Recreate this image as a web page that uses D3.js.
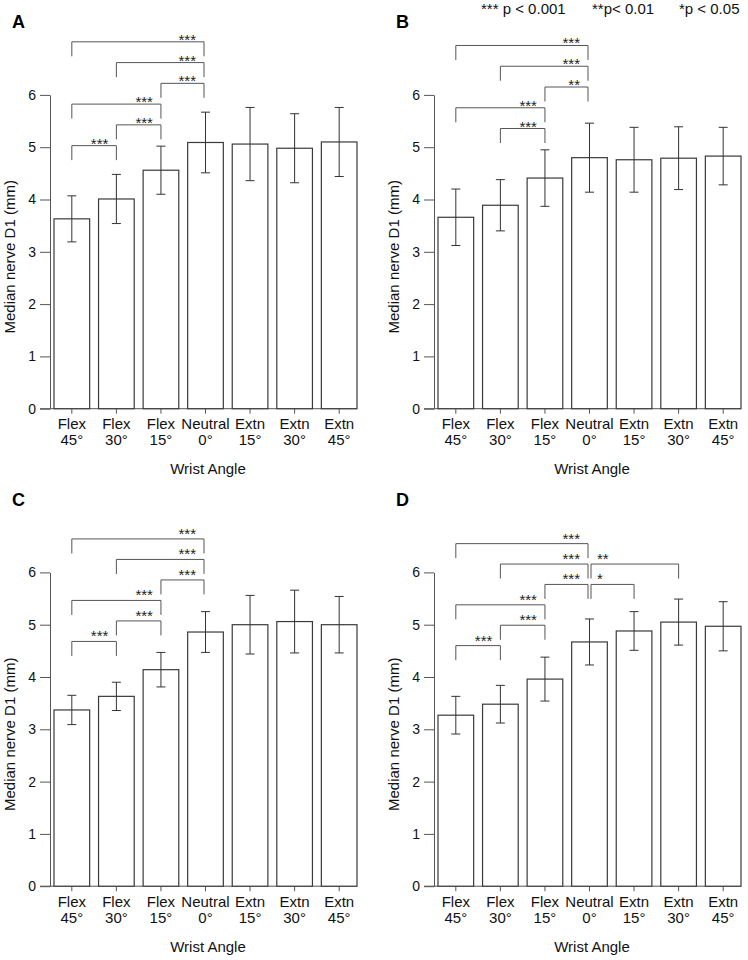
<!DOCTYPE html>
<html><head><meta charset="utf-8">
<script src="https://cdn.jsdelivr.net/npm/d3@7"></script>
<style>
body{margin:0;background:#fff}
svg{display:block;font-family:Arial,"Liberation Sans",sans-serif}
</style>
</head><body>
<svg id="chart" width="748" height="960"></svg>
<script>
// ---------- data ----------
const categories = ["Flex 45°","Flex 30°","Flex 15°","Neutral 0°","Extn 15°","Extn 30°","Extn 45°"];
const tickLine1 = ["Flex","Flex","Flex","Neutral","Extn","Extn","Extn"];
const tickLine2 = ["45°","30°","15°","0°","15°","30°","45°"];
const yTicks = [0,1,2,3,4,5,6];
const panelLabels = ["A","B","C","D"];
const yLabel = "Median nerve D1 (mm)";
const xLabel = "Wrist Angle";
const legendItems = ["*** p < 0.001","**p< 0.01","*p < 0.05"];

const meanA = [3.63,4.01,4.56,5.09,5.06,4.98,5.10];
const sdA   = [0.44,0.47,0.46,0.58,0.70,0.66,0.66];
const meanB = [3.66,3.89,4.41,4.80,4.76,4.79,4.83];
const sdB   = [0.54,0.49,0.54,0.66,0.62,0.60,0.55];
const meanC = [3.37,3.63,4.14,4.86,5.00,5.06,5.00];
const sdC   = [0.28,0.27,0.33,0.39,0.56,0.60,0.54];
const meanD = [3.27,3.48,3.96,4.67,4.88,5.05,4.97];
const sdD   = [0.36,0.36,0.42,0.44,0.37,0.44,0.47];

// brackets: [fromIndex, toIndex, label, stackLevel]
const bracketsA = [[0,1,"***",0],[1,2,"***",1],[0,2,"***",2],[2,3,"***",3],[1,3,"***",4],[0,3,"***",5]];
const bracketsB = [[1,2,"***",1],[0,2,"***",2],[2,3,"**",3],[1,3,"***",4],[0,3,"***",5]];
const bracketsC = [[0,1,"***",0],[1,2,"***",1],[0,2,"***",2],[2,3,"***",3],[1,3,"***",4],[0,3,"***",5]];
const bracketsD = [[0,1,"***",0],[1,2,"***",1],[0,2,"***",2],[2,3,"***",3],[3,4,"*",3],[1,3,"***",4],[3,5,"**",4],[0,3,"***",5]];

// ---------- layout ----------
const panels = [
  {label:panelLabels[0], mean:meanA, sd:sdA, br:bracketsA, ox:0,   oy:0,     base:5.03, step:0.397, starDy:3},
  {label:panelLabels[1], mean:meanB, sd:sdB, br:bracketsB, ox:384, oy:0,     base:4.96, step:0.397, starDy:3},
  {label:panelLabels[2], mean:meanC, sd:sdC, br:bracketsC, ox:0,   oy:477.5, base:4.68, step:0.392, starDy:0},
  {label:panelLabels[3], mean:meanD, sd:sdD, br:bracketsD, ox:384, oy:477.5, base:4.60, step:0.39,  starDy:0}
];
const axisX = 50, barL = 54, barR = 357, y0px = 408.7, y6px = 94.9;
const axisCol = "#555", barCol = "#3a3a3a", brCol = "#555";

const svg = d3.select("#chart");

// legend
const legendX = [481, 592, 679];
svg.selectAll("text.legend").data(legendItems).join("text")
  .attr("class","legend").attr("x",(d,i)=>legendX[i]).attr("y",14)
  .attr("font-size",15).attr("fill","#111").text(d=>d);

panels.forEach(p => {
  const g = svg.append("g").attr("transform",`translate(${p.ox},${p.oy})`);
  const x = d3.scaleBand().domain(categories).range([barL,barR]).paddingInner(0.2).paddingOuter(0);
  const y = d3.scaleLinear().domain([0,6]).range([y0px,y6px]);
  const cx = i => x(categories[i]) + x.bandwidth()/2;

  // panel letter
  g.append("text").attr("x",12).attr("y",28).attr("font-size",18).attr("font-weight","bold")
    .attr("fill","#000").text(p.label);

  // y axis
  const ya = g.append("g").attr("transform",`translate(${axisX},0)`)
    .call(d3.axisLeft(y).tickValues(yTicks).tickSize(10).tickPadding(4).tickSizeOuter(0).tickFormat(d3.format("d")));
  ya.attr("font-family",null).attr("font-size",null);
  ya.selectAll("path,line").attr("stroke",axisCol);
  ya.selectAll("text").attr("font-size",14).attr("fill","#111");

  // x axis
  const xa = g.append("g").attr("transform",`translate(0,${y(0)})`)
    .call(d3.axisBottom(x).tickSize(5).tickSizeOuter(0).tickFormat(()=>""));
  xa.attr("font-family",null).attr("font-size",null);
  xa.select(".domain").remove();
  xa.append("line").attr("x1",axisX-10).attr("x2",barR).attr("y1",0).attr("y2",0).attr("stroke",axisCol);
  xa.selectAll(".tick line").attr("stroke",axisCol);
  xa.selectAll(".tick").each(function(d,i){
    const t = d3.select(this).select("text").attr("y",null).attr("dy",null)
      .attr("font-size",15).attr("fill","#111").attr("text-anchor","middle");
    t.append("tspan").attr("x",0).attr("y",20.5).text(tickLine1[i]);
    t.append("tspan").attr("x",0).attr("y",36.5).text(tickLine2[i]);
  });

  // axis titles
  g.append("text").attr("x",(barL+barR)/2+2.5).attr("y",y(0)+65.5).attr("text-anchor","middle")
    .attr("font-size",15).attr("fill","#111").text(xLabel);
  g.append("text").attr("transform",`translate(15,${y(3)+5}) rotate(-90)`).attr("text-anchor","middle")
    .attr("font-size",15).attr("fill","#111").text(yLabel);

  // bars
  g.selectAll("rect.bar").data(p.mean).join("rect").attr("class","bar")
    .attr("x",(d,i)=>x(categories[i])).attr("width",x.bandwidth())
    .attr("y",d=>y(d)).attr("height",d=>y(0)-y(d))
    .attr("fill","#fff").attr("stroke",barCol).attr("stroke-width",1.2);

  // error bars
  const eb = g.selectAll("g.err").data(p.mean).join("g").attr("class","err");
  eb.append("line").attr("x1",(d,i)=>cx(i)).attr("x2",(d,i)=>cx(i))
    .attr("y1",(d,i)=>y(d+p.sd[i])).attr("y2",(d,i)=>y(d-p.sd[i])).attr("stroke","#333");
  eb.append("line").attr("x1",(d,i)=>cx(i)-4.5).attr("x2",(d,i)=>cx(i)+4.5)
    .attr("y1",(d,i)=>y(d+p.sd[i])).attr("y2",(d,i)=>y(d+p.sd[i])).attr("stroke","#333");
  eb.append("line").attr("x1",(d,i)=>cx(i)-4.5).attr("x2",(d,i)=>cx(i)+4.5)
    .attr("y1",(d,i)=>y(d-p.sd[i])).attr("y2",(d,i)=>y(d-p.sd[i])).attr("stroke","#333");

  // significance brackets
  const drop = 14.5;
  p.br.forEach(([a,b,lab,lev]) => {
    const yy = y(p.base + lev*p.step);
    const xl = cx(a) + (a===3 ? 1.5 : 0);
    const xr = cx(b) - (b===3 ? 1.5 : 0);
    g.append("path").attr("d",`M${xl},${yy+drop}V${yy}H${xr}V${yy+drop}`)
      .attr("fill","none").attr("stroke",brCol).attr("stroke-width",1);
    const rightSide = a >= 3;
    g.append("text").attr("x", rightSide ? xl+6 : xr-8).attr("y", yy + p.starDy)
      .attr("text-anchor", rightSide ? "start" : "end")
      .attr("font-size",15).attr("fill","#222").text(lab);
  });
});
</script>
</body></html>
